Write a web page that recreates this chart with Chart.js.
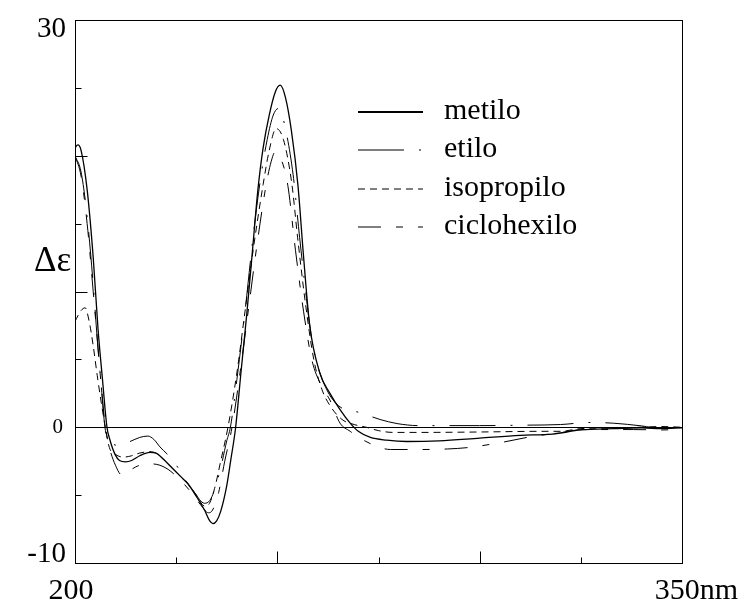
<!DOCTYPE html>
<html>
<head>
<meta charset="utf-8">
<script src="https://cdn.jsdelivr.net/npm/chart.js@4.4.1/dist/chart.umd.min.js"></script>
<style>
  html, body { margin: 0; padding: 0; background: #fff; }
  #wrap { width: 738px; height: 600px; }
</style>
</head>
<body>
<div id="wrap"><canvas id="cd"></canvas></div>
<script>
// CD spectra, wavelength (nm) vs delta epsilon, one pair of arrays per ester
const metiloNm = [200, 200.7, 201.5, 203, 204.5, 205.7, 206.8, 207.9, 208.6, 209.9, 211, 212.5, 214, 216, 218.5, 220, 222, 224, 226, 228, 230, 232, 233.3, 234.1, 235, 236, 237.5, 238.5, 239.7, 241, 242.5, 244, 245.2, 246.5, 248, 249.5, 250.7, 252, 253.5, 255.1, 256.5, 258, 260.5, 263, 265.5, 268, 270, 273, 277, 282, 290, 300, 310, 318, 325, 333, 340, 345, 350];
const metiloDe = [20.6, 20.8, 20.4, 17.5, 12.5, 7.2, 3.5, 0, -0.9, -2.0, -2.45, -2.55, -2.45, -2.1, -1.85, -1.9, -2.4, -3.0, -3.6, -4.2, -5.1, -6.1, -6.9, -7.1, -6.9, -6.2, -4.3, -2.4, 0, 4.0, 8.5, 13.5, 17.5, 20.6, 23.0, 24.7, 25.2, 24.3, 21.8, 17.8, 12.5, 7.5, 4.0, 2.5, 1.3, 0.3, -0.3, -0.75, -0.95, -1.05, -1.0, -0.8, -0.6, -0.5, -0.2, -0.1, -0.05, -0.1, -0.05];

const etiloNm = [200, 201.5, 203, 204.5, 205.5, 206.5, 207.4, 208.2, 209, 211, 213.6, 216, 218, 219.5, 221, 223.5, 225.5, 227.2, 229.5, 232, 233.3, 234.5, 236, 237.5, 238.4, 240, 242, 244, 245.7, 247.5, 249, 250.4, 252, 253.9, 255.5, 257, 258.5, 260, 262.5, 265.5, 270.4, 275.4, 279.6, 285, 300, 310, 320, 327, 333, 340, 345, 350];
const etiloDe = [20.0, 18.8, 15.5, 10.5, 6.5, 3.0, 0, -1.0, -1.2, -1.35, -1.05, -0.75, -0.65, -0.9, -1.45, -2.2, -3.0, -3.85, -4.8, -5.6, -5.4, -4.6, -3.0, -1.0, 0, 3.5, 8.5, 14.0, 18.0, 21.2, 23.0, 23.5, 22.0, 18.6, 14.0, 10.0, 6.5, 4.5, 2.6, 1.5, 1.08, 0.57, 0.27, 0.12, 0.12, 0.15, 0.2, 0.35, 0.3, 0.1, -0.1, -0.05];

const isopropiloNm = [200, 201.5, 202.5, 203.5, 204.5, 205.5, 206.5, 207.5, 208.5, 210, 212, 214, 216, 218.5, 220, 222, 224, 226, 228, 230, 232, 233, 234.5, 236, 237.8, 240, 242, 244, 246.5, 248, 249.7, 251.5, 253.6, 255, 257, 259, 261, 263, 266, 269, 272, 275, 278.6, 285, 300, 315, 320, 325, 335, 345, 350];
const isopropiloDe = [7.8, 8.6, 8.8, 7.8, 6.0, 3.8, 1.8, 0, -1.5, -2.0, -2.2, -2.1, -1.9, -1.8, -1.9, -2.4, -3.0, -3.6, -4.2, -5.0, -5.8, -5.7, -4.5, -2.5, 0, 4.0, 8.5, 13.0, 17.9, 20.4, 22.0, 21.2, 17.9, 14.0, 9.0, 5.0, 2.8, 1.6, 0.57, 0.2, 0, -0.25, -0.38, -0.38, -0.35, -0.3, -0.3, -0.1, -0.05, 0.05, 0];

const ciclohexiloNm = [200, 201.5, 203, 204.5, 205.5, 206.5, 207.5, 208.5, 210, 211.5, 212.5, 214, 216, 219, 221, 223, 225, 227, 229, 231, 233, 234, 235.5, 237, 238.8, 241, 243, 245, 247.2, 248.5, 249.5, 251, 252.6, 254.5, 256.5, 258.5, 261, 263, 265.5, 268, 271, 275.4, 278, 285, 292, 297, 305, 313, 320, 325.5, 338, 345, 350];
const ciclohexiloDe = [20.0, 18.5, 15.0, 10.0, 6.5, 3.0, 0, -1.5, -2.8, -3.5, -3.5, -3.1, -2.8, -2.7, -2.8, -3.1, -3.6, -4.2, -4.9, -5.7, -6.3, -6.1, -4.8, -2.5, 0, 4.5, 9.0, 13.5, 17.8, 19.6, 20.3, 19.7, 17.8, 13.0, 8.5, 5.0, 3.0, 2.0, 0.3, -0.3, -0.9, -1.5, -1.64, -1.64, -1.6, -1.5, -1.14, -0.68, -0.4, -0.17, -0.17, -0.2, -0.15];

const seriesNames = ['metilo', 'etilo', 'isopropilo', 'ciclohexilo'];

// tick marks drawn inside the frame, and the few labelled values
const xTickValues = [225, 250, 275, 300, 325];
const yTickValues = [-5, 5, 10, 15, 20, 25];
const xLabelValues = [200, 350];
const xLabelTexts = ['200', '350nm'];
const yLabelValues = [30, 0, -10];
const yLabelTexts = ['30', '0', '-10'];

const SERIF = '"Liberation Serif", "Times New Roman", serif';

function points(nm, de) {
    return nm.map((n, i) => ({ x: n, y: de[i] }));
}

const lineStyles = [
    { width: 1.3, legendWidth: 2.2, dash: [] },
    { width: 1, legendWidth: 1, dash: [46, 15, 2, 15] },
    { width: 1, legendWidth: 1, dash: [7, 5] },
    { width: 1, legendWidth: 1, dash: [23, 15, 7, 15] }
];

const seriesData = [
    points(metiloNm, metiloDe),
    points(etiloNm, etiloDe),
    points(isopropiloNm, isopropiloDe),
    points(ciclohexiloNm, ciclohexiloDe)
];

// frame, inner ticks, zero line, axis text and the legend box
const decor = {
    id: 'decor',
    afterDatasetsDraw(chart) {
        const { ctx, chartArea: a, scales: { x, y } } = chart;
        const L = Math.round(a.left) + 0.5, R = Math.round(a.right) + 0.5;
        const T = Math.round(a.top) + 0.5, B = Math.round(a.bottom) + 0.5;
        ctx.save();
        ctx.strokeStyle = '#000';
        ctx.lineWidth = 1;
        ctx.setLineDash([]);
        ctx.strokeRect(L, T, R - L, B - T);

        const y0 = Math.round(y.getPixelForValue(0)) + 0.5;
        ctx.beginPath();
        ctx.moveTo(L, y0);
        ctx.lineTo(R, y0);
        ctx.stroke();

        ctx.beginPath();
        yTickValues.forEach(v => {
            const py = Math.round(y.getPixelForValue(v)) + 0.5;
            const len = v % 10 === 0 ? 12 : 6;
            ctx.moveTo(L, py);
            ctx.lineTo(L + len, py);
        });
        xTickValues.forEach(v => {
            const px = Math.round(x.getPixelForValue(v)) + 0.5;
            const len = v % 50 === 0 ? 12 : 6;
            ctx.moveTo(px, B);
            ctx.lineTo(px, B - len);
        });
        ctx.stroke();

        ctx.fillStyle = '#000';
        ctx.textBaseline = 'alphabetic';
        ctx.textAlign = 'right';
        yLabelValues.forEach((v, i) => {
            const py = y.getPixelForValue(v);
            if (v === 0) {
                ctx.font = '21px ' + SERIF;
                ctx.fillText(yLabelTexts[i], a.left - 12, py + 6);
            } else {
                ctx.font = '29px ' + SERIF;
                // keep the end labels inside the frame height
                const base = Math.min(Math.max(py + 10, a.top + 16.5), a.bottom - 1);
                ctx.fillText(yLabelTexts[i], a.left - 9, base);
            }
        });

        ctx.font = '30px ' + SERIF;
        xLabelValues.forEach((v, i) => {
            const px = x.getPixelForValue(v);
            if (i === 0) {
                ctx.textAlign = 'center';
                ctx.fillText(xLabelTexts[i], px - 4, a.bottom + 36);
            } else {
                ctx.textAlign = 'right';
                ctx.fillText(xLabelTexts[i], chart.width, a.bottom + 36);
            }
        });

        ctx.textAlign = 'left';
        ctx.font = '35px ' + SERIF;
        ctx.fillText('\u0394\u03b5', 34, 271);

        // legend
        ctx.font = '30px ' + SERIF;
        seriesNames.forEach((name, i) => {
            const st = lineStyles[i];
            const ly = 112 + i * 38.3;
            ctx.beginPath();
            ctx.lineWidth = st.legendWidth;
            ctx.setLineDash(st.dash);
            ctx.moveTo(358, Math.round(ly));
            ctx.lineTo(423, Math.round(ly));
            ctx.stroke();
            ctx.setLineDash([]);
            ctx.fillText(name, 444, ly + 7);
        });
        ctx.restore();
    }
};

new Chart(document.getElementById('cd'), {
    type: 'line',
    data: {
        datasets: seriesNames.map((name, i) => ({
            label: name,
            data: seriesData[i],
            borderColor: '#000',
            borderWidth: lineStyles[i].width,
            borderDash: lineStyles[i].dash,
            pointRadius: 0,
            fill: false,
            cubicInterpolationMode: 'monotone'
        }))
    },
    options: {
        responsive: true,
        maintainAspectRatio: false,
        animation: false,
        layout: { padding: { left: 75, top: 20, right: 56, bottom: 37 } },
        plugins: {
            legend: { display: false },
            tooltip: { enabled: false }
        },
        scales: {
            x: { type: 'linear', min: 200, max: 350, display: false },
            y: { type: 'linear', min: -10, max: 30, display: false }
        }
    },
    plugins: [decor]
});
</script>
</body>
</html>
